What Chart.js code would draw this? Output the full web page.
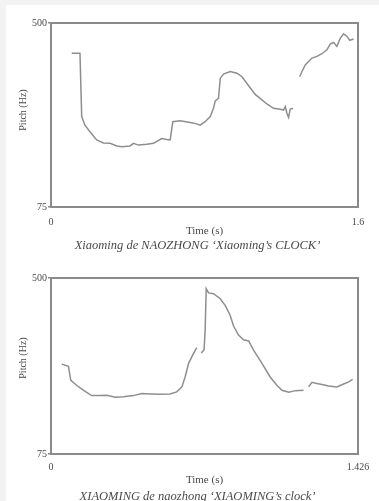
<!DOCTYPE html>
<html>
<head>
<meta charset="utf-8">
<script src="https://cdn.jsdelivr.net/npm/chart.js@4"></script>
<style>
  body { margin:0; background:#f3f3f3; }
  #page { position:relative; width:379px; height:501px; }
  #panel { position:absolute; left:6px; top:5px; width:373px; height:496px; background:#fff; }
  .box { position:absolute; left:0; width:379px; }
</style>
</head>
<body>
<div id="page">
  <div id="panel"></div>
  <div class="box" style="top:0;height:258px"><canvas id="topChart"></canvas></div>
  <div class="box" style="top:250px;height:251px"><canvas id="bottomChart"></canvas></div>
</div>
<script>
// pitch track 1: Xiaoming de NAOZHONG (null = unvoiced gap)
var topTime = [0.108,0.151,0.160,0.177,0.203,0.238,0.273,0.308,0.343,0.369,0.412,0.430,0.456,0.499,0.534,0.577,0.603,0.621,0.635,0.673,0.725,0.760,0.777,0.803,0.830,0.847,0.856,0.873,0.882,0.899,0.934,0.969,0.995,1.030,1.064,1.090,1.125,1.160,1.195,1.212,1.221,1.230,1.238,1.247,1.261,
  1.280,
  1.296,1.308,1.325,1.360,1.386,1.412,1.438,1.456,1.473,1.490,1.508,1.525,1.543,1.557,1.577]
var topPitch = [430,430,284,264,249,230,223,222,216,214,216,222,218,220,222,233,231,230,272,274,270,267,264,272,284,303,320,326,372,382,388,384,376,355,335,326,313,303,301,299,307,291,282,301,303,
  null,
  376,388,403,419,423,429,438,452,455,446,465,475,469,460,463]
var topMaxTime = 1.6

// pitch track 2: XIAOMING de naozhong
var bottomTime = [0.050,0.081,0.092,0.119,0.150,0.189,0.228,0.259,0.298,0.336,0.383,0.422,0.460,0.507,0.553,0.584,0.608,0.623,0.639,0.662,0.677,
  0.688,
  0.698,0.711,0.716,0.721,0.732,0.755,0.786,0.809,0.832,0.848,0.871,0.894,0.918,0.941,0.980,1.018,1.049,1.073,1.104,1.135,1.173,
  1.185,
  1.197,1.212,1.235,1.259,1.290,1.328,1.359,1.383,1.401]
var bottomPitch = [292,287,253,241,229,216,216,217,212,213,216,221,220,219,220,225,237,261,294,318,332,
  null,
  319,327,374,474,464,462,450,434,410,384,362,351,348,326,294,261,241,229,224,228,229,
  null,
  237,248,245,243,239,237,244,249,255]
var bottomMaxTime = 1.426

var pitchTicks = [75, 500]
var lineGrey = '#8e8e8e'
var textGrey = '#4a4a4a'
var serif = '"Liberation Serif", "DejaVu Serif", serif'

function toPoints(xs, ys) {
  return xs.map(function (x, i) { return { x: x, y: ys[i] } })
}

// frame + axis texts, drawn after the chart
function textPlugin(timeY, caption, captionY, pitchY) {
  return {
    id: 'texts',
    afterDraw: function (chart) {
      var ctx = chart.ctx
      var a = chart.chartArea
      ctx.save()
      ctx.strokeStyle = '#8a8a8a'
      ctx.lineWidth = 2
      ctx.strokeRect(a.left, a.top, a.right - a.left, a.bottom - a.top)
      ctx.fillStyle = textGrey
      ctx.textAlign = 'center'
      ctx.textBaseline = 'middle'
      ctx.font = '11px ' + serif
      ctx.fillText('Time (s)', (a.left + a.right) / 2, timeY)
      ctx.font = 'italic 12.5px ' + serif
      ctx.fillText(caption, (a.left + a.right) / 2 - 7, captionY)
      ctx.translate(23, pitchY)
      ctx.rotate(-Math.PI / 2)
      ctx.font = '10px ' + serif
      ctx.fillText('Pitch (Hz)', 0, 0)
      ctx.restore()
    }
  }
}

function makeChart(id, times, pitches, maxTime, pad, xHeight, xPad, texts) {
  return new Chart(document.getElementById(id), {
    type: 'scatter',
    data: {
      datasets: [{
        data: toPoints(times, pitches),
        showLine: true,
        spanGaps: false,
        borderColor: lineGrey,
        borderWidth: 1.5,
        pointRadius: 0,
        tension: 0
      }]
    },
    options: {
      responsive: true,
      maintainAspectRatio: false,
      animation: false,
      layout: { padding: pad },
      plugins: { legend: { display: false }, tooltip: { enabled: false } },
      scales: {
        x: {
          type: 'linear',
          min: 0,
          max: maxTime,
          afterBuildTicks: function (s) { s.ticks = [{ value: 0 }, { value: maxTime }] },
          afterFit: function (s) { s.height = xHeight },
          grid: { display: false },
          border: { display: false },
          ticks: {
            padding: xPad,
            maxRotation: 0,
            color: textGrey,
            font: { family: serif, size: 10 },
            callback: function (v) { return v === 0 ? '0' : String(maxTime) }
          }
        },
        y: {
          type: 'linear',
          min: 75,
          max: 500,
          afterBuildTicks: function (s) { s.ticks = pitchTicks.map(function (v) { return { value: v } }) },
          afterFit: function (s) { s.width = 51 },
          grid: { drawOnChartArea: false, drawTicks: true, tickLength: 3, color: '#8a8a8a', lineWidth: 1.5 },
          border: { display: false },
          ticks: {
            padding: 1,
            color: textGrey,
            font: { family: serif, size: 10 }
          }
        }
      }
    },
    plugins: [texts]
  })
}

// top canvas is 258 tall (overlaps the lower one) so the caption descenders are not cut
makeChart('topChart', topTime, topPitch, topMaxTime,
  { left: 0, top: 23, right: 21, bottom: 0 }, 51, 1,
  textPlugin(231, "Xiaoming de NAOZHONG \u2018Xiaoming\u2019s CLOCK\u2019", 246, 110))

makeChart('bottomChart', bottomTime, bottomPitch, bottomMaxTime,
  { left: 0, top: 28, right: 21, bottom: 0 }, 47, -1,
  textPlugin(230, "XIAOMING de naozhong \u2018XIAOMING\u2019s clock\u2019", 247, 108))
</script>
</body>
</html>
